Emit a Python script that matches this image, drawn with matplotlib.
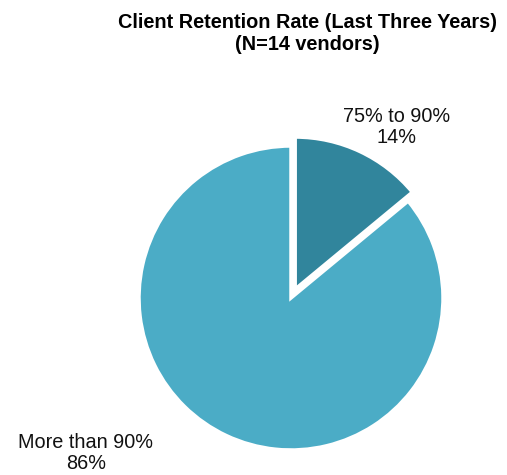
import matplotlib.pyplot as plt

# Data
categories = ['75% to 90%', 'More than 90%']
shares = [14, 86]
colors = ['#31859C', '#4BACC6']
explode = [0.065, 0]

plt.rcParams['font.family'] = ['Liberation Sans', 'DejaVu Sans']

W, H = 507, 475
fig = plt.figure(figsize=(W / 100, H / 100), dpi=100)

# pie centre and radius in pixels
cx, cy, r = 291, 298, 152
lim = 1.6
size = 2 * lim * r
ax = fig.add_axes([(cx - size / 2) / W, (H - cy - size / 2) / H, size / W, size / H])

ax.pie(shares, colors=colors, explode=explode, startangle=90, counterclock=False,
       radius=1, wedgeprops=dict(edgecolor='white', linewidth=2.5))
ax.set_xlim(-lim, lim)
ax.set_ylim(-lim, lim)
ax.set_aspect('equal')
ax.axis('off')

# slice labels
label_pos = [(397, 127), (86, 453)]
for name, val, (px, py) in zip(categories, shares, label_pos):
    ax.text((px - cx) / r, (cy - py) / r, f'{name}\n{val}%', ha='center', va='center',
            fontsize=14.3, linespacing=1.15, color='#111111')

fig.text(307 / W, 1 - 34 / H, 'Client Retention Rate (Last Three Years)\n(N=14 vendors)',
         ha='center', va='center', fontsize=14.3, fontweight='bold', linespacing=1.2)

fig.savefig('out.png', dpi=100)
